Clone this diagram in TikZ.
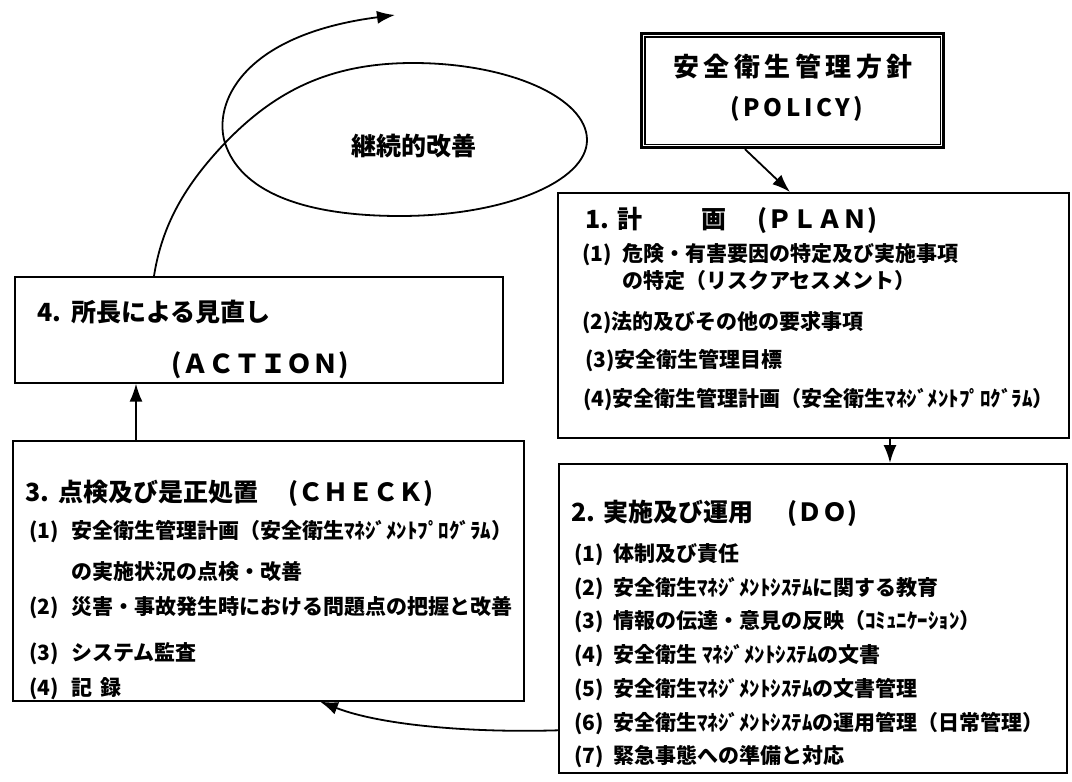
\documentclass[tikz,border=0pt]{standalone}
\usepackage{fontspec}
\setmainfont{Noto Sans CJK JP}
\newfontfamily\jpsp{Noto Sans CJK JP}[LetterSpace=17]
\newfontfamily\jpsq{Noto Sans CJK JP}[LetterSpace=15]
\usetikzlibrary{arrows.meta}
\begin{document}
\begin{tikzpicture}[x=1pt,y=-1pt,
  box/.style={draw, line width=1.6pt, inner sep=0pt},
  conn/.style={line width=1.8pt, -{Latex[length=18pt,width=13pt]}},
  item/.style={anchor=west, inner sep=0pt, font=\fontsize{21}{24}\selectfont\bfseries},
  ttl/.style={anchor=west, inner sep=0pt, font=\fontsize{25}{28}\selectfont\bfseries},
]
\useasboundingbox (0,0) rectangle (1072,782);
\fill[white] (0,0) rectangle (1072,782);

% ---------- boxes ----------
\node[box, line width=3.2pt, anchor=north west, minimum width=302pt, minimum height=114pt] (policy) at (640,32) {};
\draw[line width=1.2pt] ([shift={(5,5)}]policy.north west) rectangle ([shift={(-5,-5)}]policy.south east);
\node[box, anchor=north west, minimum width=511pt, minimum height=245pt] (plan) at (557,192) {};
\node[box, anchor=north west, minimum width=508pt, minimum height=309pt] (do) at (558,463) {};
\node[box, anchor=north west, minimum width=511pt, minimum height=260pt] (check) at (12,440) {};
\node[box, anchor=north west, minimum width=488pt, minimum height=106pt] (action) at (14,276) {};

% ---------- policy ----------
\node[inner sep=0pt, font=\jpsp\fontsize{26}{30}\bfseries] (poljp) at (793,67) {安全衛生管理方針};
\node[inner sep=0pt, font=\jpsq\fontsize{24}{28}\bfseries] (polen) at (797,109) {(POLICY)};

% ---------- plan ----------
\node[ttl] (plant) at (585,220) {1.\hspace{8pt}計\hspace{59pt}画\hspace{31pt}(ＰＬＡＮ)};
\node[item] (p1a) at (582,255) {\makebox[40pt][l]{(1)}危険・有害要因の特定及び実施事項};
\node[item] (p1b) at (622,281) {の特定（リスクアセスメント）};
\node[item] (p2) at (582,323) {(2)法的及びその他の要求事項};
\node[item] (p3) at (585,361) {(3)安全衛生管理目標};
\node[item] (p4) at (583,400) {(4)安全衛生管理計画（安全衛生ﾏﾈｼﾞﾒﾝﾄﾌﾟﾛｸﾞﾗﾑ）};

% ---------- do ----------
\node[ttl] (dot) at (571,513) {2.\hspace{8pt}実施及び運用\hspace{34pt}(ＤＯ)};
\node[item] (d1) at (574,555) {\makebox[39pt][l]{(1)}体制及び責任};
\node[item] (d2) at (574,589) {\makebox[39pt][l]{(2)}安全衛生ﾏﾈｼﾞﾒﾝﾄｼｽﾃﾑに関する教育};
\node[item] (d3) at (574,622) {\makebox[39pt][l]{(3)}情報の伝達・意見の反映（ｺﾐｭﾆｹｰｼｮﾝ）};
\node[item] (d4) at (574,656) {\makebox[39pt][l]{(4)}安全衛生 ﾏﾈｼﾞﾒﾝﾄｼｽﾃﾑの文書};
\node[item] (d5) at (574,690) {\makebox[39pt][l]{(5)}安全衛生ﾏﾈｼﾞﾒﾝﾄｼｽﾃﾑの文書管理};
\node[item] (d6) at (574,724) {\makebox[39pt][l]{(6)}安全衛生ﾏﾈｼﾞﾒﾝﾄｼｽﾃﾑの運用管理（日常管理）};
\node[item] (d7) at (574,757) {\makebox[39pt][l]{(7)}緊急事態への準備と対応};

% ---------- check ----------
\node[ttl] (checkt) at (25,493) {3.\hspace{9pt}点検及び是正処置\hspace{30pt}(ＣＨＥＣＫ)};
\node[item] (c1a) at (29,532) {\makebox[42pt][l]{(1)}安全衛生管理計画（安全衛生ﾏﾈｼﾞﾒﾝﾄﾌﾟﾛｸﾞﾗﾑ）};
\node[item] (c1b) at (71,572) {の実施状況の点検・改善};
\node[item] (c2) at (29,608) {\makebox[42pt][l]{(2)}災害・事故発生時における問題点の把握と改善};
\node[item] (c3) at (29,654) {\makebox[42pt][l]{(3)}システム監査};
\node[item] (c4) at (29,689) {\makebox[42pt][l]{(4)}記\hspace{8pt}録};

% ---------- action ----------
\node[ttl] (actt) at (37,312) {4.\hspace{10pt}所長による見直し};
\node[inner sep=0pt, font=\fontsize{26}{30}\selectfont\bfseries] (acten) at (260,365) {(ＡＣＴＩＯＮ)};

% ---------- continual improvement ----------
\node[inner sep=0pt, font=\fontsize{25}{28}\selectfont\bfseries] (kaizen) at (414,146) {継続的改善};
\coordinate (spiralend) at (395,15);

% ---------- connectors ----------
\draw[conn] ([xshift=105pt]policy.south west) -- ([xshift=233pt]plan.north west);
\draw[conn] ([xshift=333pt]plan.south west) -- ([xshift=332pt]do.north west);
\draw[conn] ([yshift=-112pt]do.west) .. controls (470,733) and (380,725) .. ([xshift=308pt]check.south west);
\draw[conn] ([xshift=124pt]check.north west) -- ([xshift=122pt]action.south west);
\draw[conn] ([xshift=140pt]action.north west)
  .. controls (162,225) and (185,185) .. (225,143)
  .. controls (275,91) and (330,63) .. (413,63)
  .. controls (509,63) and (587,98) .. (587,140)
  .. controls (587,182) and (503,216) .. (400,216)
  .. controls (300,216) and (240,190) .. (225,143)
  .. controls (213,105) and (240,35) .. (spiralend);
\end{tikzpicture}
\end{document}
